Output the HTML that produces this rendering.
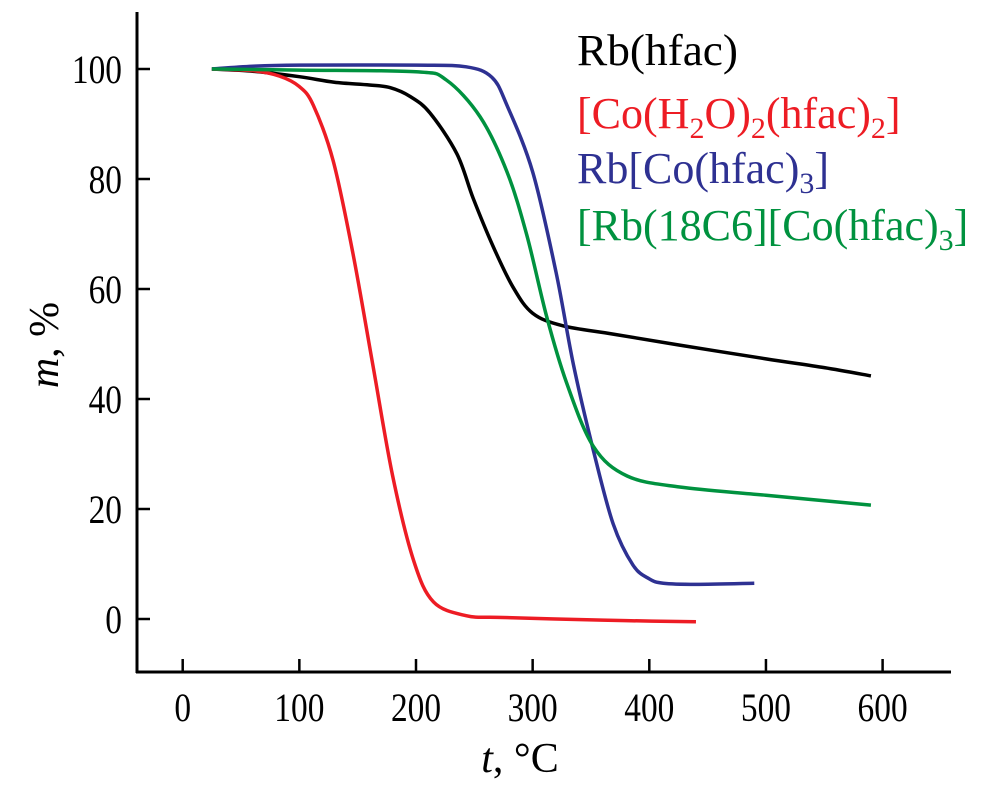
<!DOCTYPE html>
<html><head><meta charset="utf-8"><style>
html,body{margin:0;padding:0;background:#fff}
svg text{font-family:"Liberation Serif",serif}
</style></head><body>
<svg id="chart" width="996" height="783" xmlns="http://www.w3.org/2000/svg">
<g id="axes"></g>
<g id="series"></g>
<g id="legend" font-size="44">
<text x="577" y="65" fill="#000" textLength="161" lengthAdjust="spacingAndGlyphs">Rb(hfac)</text>
<text x="577" y="128" fill="#ed1c24">[Co(H<tspan font-size="30" dy="10">2</tspan><tspan dy="-10">O)</tspan><tspan font-size="30" dy="10">2</tspan><tspan dy="-10">(hfac)</tspan><tspan font-size="30" dy="10">2</tspan><tspan dy="-10">]</tspan></text>
<text x="577" y="183" fill="#2e3192">Rb[Co(hfac)<tspan font-size="30" dy="10">3</tspan><tspan dy="-10">]</tspan></text>
<text x="577" y="240" fill="#00923f">[Rb(18C6][Co(hfac)<tspan font-size="30" dy="10">3</tspan><tspan dy="-10">]</tspan></text>
</g>
<text x="520" y="772" font-size="42" text-anchor="middle"><tspan font-style="italic">t</tspan>, °C</text>
<text transform="translate(58,345) rotate(-90)" font-size="42" text-anchor="middle"><tspan font-style="italic">m</tspan>, %</text>
</svg>
<script>
const xTicks=[0,100,200,300,400,500,600];
const yTicks=[0,20,40,60,80,100];
const seriesNames=["rb-hfac","co-h2o-hfac","rb-co-hfac3","rb18c6-co-hfac3"];
const seriesColors=["#000000","#ed1c24","#2e3192","#00923f"];
const blackT=[25,60,100,130,160,178,195,212,235,249,266,283,300,326,369,426,500,550,590];
const blackM=[100,99.6,98.6,97.6,97.1,96.6,95,92,84.6,76.5,67.8,60.4,55.6,53.3,51.8,49.8,47.3,45.7,44.2];
const redT=[25,60,83,100,112,129,146,163,180,198,215,243,270,320,380,440];
const redM=[100,99.7,98.7,96.8,93.4,83.3,66.4,46.2,26,10.6,3.1,0.6,0.3,0,-0.3,-0.5];
const blueT=[25,60,100,200,243,265,278,300,320,335,352,369,386,400,412,440,490];
const blueM=[100,100.5,100.7,100.7,100.4,98.5,93.4,81.3,63.1,46.2,30.7,17.3,9.8,7.3,6.5,6.3,6.5];
const greenT=[25,100,200,226,255,278,295,312,329,352,381,426,500,590];
const greenM=[100,99.8,99.5,98,91.3,81.3,69.8,55,43,31.4,26,24,22.5,20.7];
const allT=[blackT,redT,blueT,greenT], allM=[blackM,redM,blueM,greenM];
const NS="http://www.w3.org/2000/svg";
const xs=t=>182.7+t*1.1665;
const ys=m=>619-m*5.5;
const axes=document.getElementById('axes');
function mk(tag,attrs,parent){const e=document.createElementNS(NS,tag);for(const k in attrs)e.setAttribute(k,attrs[k]);parent.appendChild(e);return e;}
const yl=mk('line',{x1:137,y1:12,x2:137,y2:673,stroke:'#000','stroke-width':3},axes);


const xl=mk('line',{x1:136,y1:672,x2:951,y2:672,stroke:'#000','stroke-width':3},axes);


xTicks.forEach(v=>{
  const t=mk('line',{x1:xs(v),y1:672,x2:xs(v),y2:659,stroke:'#000','stroke-width':2.5},axes);
  
  
  const s=String(v);
  const l=mk('text',{x:xs(v),y:721,'font-size':40,'text-anchor':'middle',textLength:s.length*16.7,lengthAdjust:'spacingAndGlyphs'},axes);
  l.textContent=s;
  
  
});
yTicks.forEach(v=>{
  const t=mk('line',{x1:137,y1:ys(v),x2:150,y2:ys(v),stroke:'#000','stroke-width':2.5},axes);
  
  
  const s=String(v);
  const l=mk('text',{x:122,y:ys(v)+14,'font-size':40,'text-anchor':'end',textLength:s.length*16.7,lengthAdjust:'spacingAndGlyphs'},axes);
  l.textContent=s;
  
  
});
const sg=document.getElementById('series');
function smooth(pts){
  let d='M'+pts[0][0]+','+pts[0][1];
  for(let i=0;i<pts.length-1;i++){
    const p0=pts[i-1]||pts[i],p1=pts[i],p2=pts[i+1],p3=pts[i+2]||p2;
    const c1=[p1[0]+(p2[0]-p0[0])/6,p1[1]+(p2[1]-p0[1])/6];
    const c2=[p2[0]-(p3[0]-p1[0])/6,p2[1]-(p3[1]-p1[1])/6];
    d+=' C'+c1[0]+','+c1[1]+' '+c2[0]+','+c2[1]+' '+p2[0]+','+p2[1];
  }
  return d;
}
allT.forEach((T,i)=>{
  const pts=T.map((t,j)=>[xs(t),ys(allM[i][j])]);
  const p=mk('path',{d:smooth(pts),fill:'none',stroke:seriesColors[i],'stroke-width':3.5,'stroke-linejoin':'round'},sg);
  
  
});
</script>
</body></html>
